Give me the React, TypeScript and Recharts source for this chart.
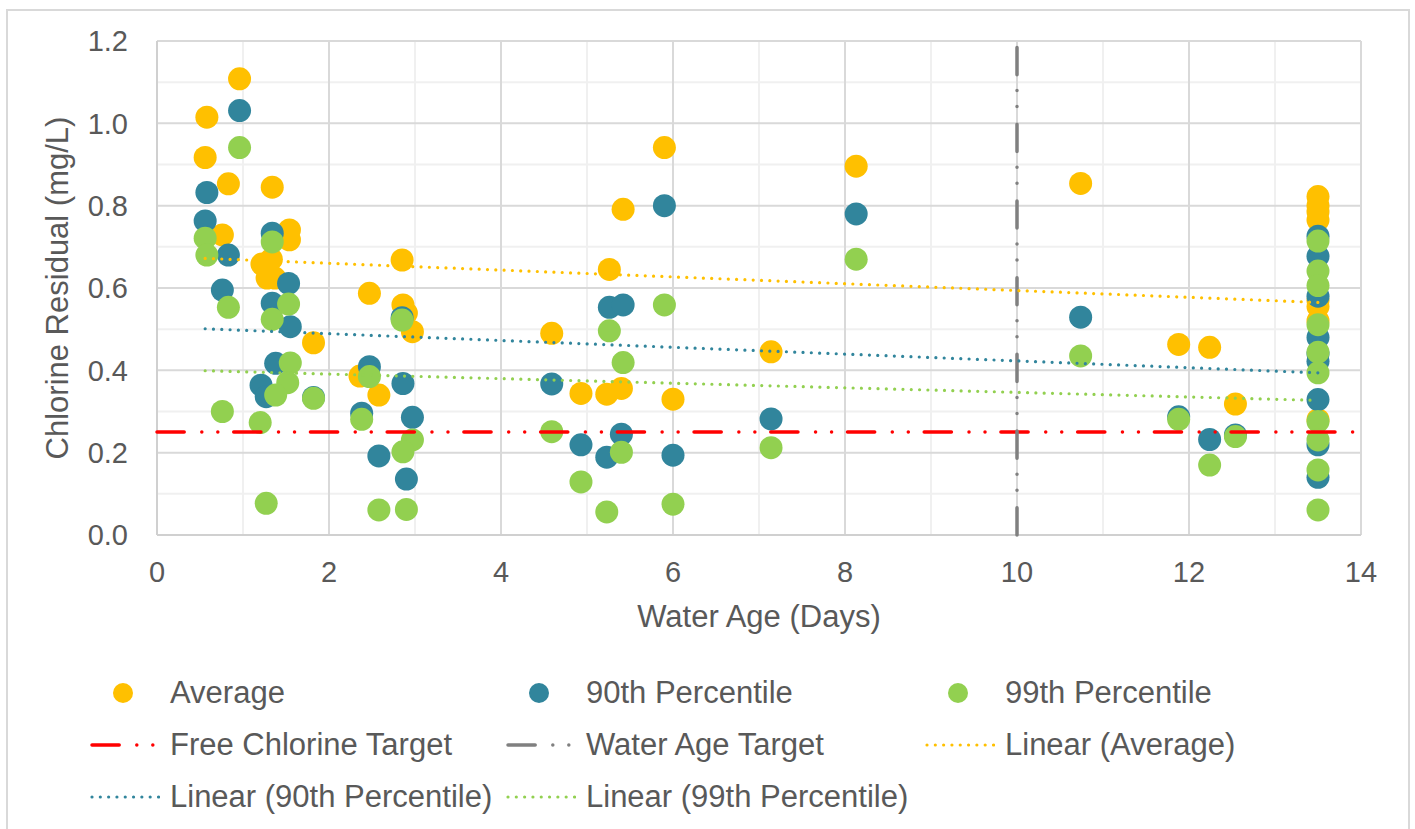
// Chlorine residual vs water age — scatter of three percentile series,
// their linear trends, and the two target lines drawn as two-point series.

import { CartesianGrid, Scatter, ScatterChart, XAxis, YAxis } from "recharts";

const FONT = '"Liberation Sans", Arial, sans-serif';
const INK = "#595959";
const GOLD = "#FFC000";
const TEAL = "#31859C";
const LIME = "#92D050";
const RED = "#FF0000";
const GREY = "#808080";

const xTicks = [0, 2, 4, 6, 8, 10, 12, 14];
const xMinor = [1, 3, 5, 7, 9, 11, 13];
const yTicks = [0, 0.2, 0.4, 0.6, 0.8, 1.0, 1.2];
const yMinor = [0.1, 0.3, 0.5, 0.7, 0.9, 1.1];

// [water age (days), chlorine (mg/L)]
const averagePts: [number, number][] = [
  [0.96, 1.108], [0.58, 1.015], [0.56, 0.917], [0.83, 0.853], [1.34, 0.845],
  [0.76, 0.729], [1.54, 0.741], [1.54, 0.717], [1.22, 0.658], [1.33, 0.67],
  [1.28, 0.624], [1.37, 0.624], [2.85, 0.668], [2.47, 0.587], [2.86, 0.559],
  [2.9, 0.539], [2.97, 0.494], [1.82, 0.467], [2.36, 0.386], [2.58, 0.34],
  [5.9, 0.941], [5.42, 0.791], [8.13, 0.896], [5.26, 0.645], [4.59, 0.49],
  [7.14, 0.445], [4.93, 0.344], [5.23, 0.342], [5.4, 0.356], [6.0, 0.33],
  [10.74, 0.854], [11.88, 0.463], [12.24, 0.456], [12.54, 0.318],
  [13.5, 0.822], [13.5, 0.8], [13.5, 0.785], [13.5, 0.765], [13.5, 0.57],
  [13.5, 0.555], [13.5, 0.52], [13.5, 0.28],
];

const p90Pts: [number, number][] = [
  [0.96, 1.031], [0.58, 0.832], [0.56, 0.763], [0.83, 0.68], [0.76, 0.595],
  [1.34, 0.733], [1.53, 0.611], [1.34, 0.563], [1.55, 0.506], [1.38, 0.417],
  [1.21, 0.364], [1.27, 0.336], [1.82, 0.334], [2.85, 0.528], [2.47, 0.409],
  [2.86, 0.368], [2.38, 0.296], [2.97, 0.286], [2.58, 0.192], [2.9, 0.136],
  [5.9, 0.8], [8.13, 0.78], [5.26, 0.553], [5.42, 0.559], [4.59, 0.367],
  [7.14, 0.282], [5.4, 0.245], [4.93, 0.219], [5.23, 0.189], [6.0, 0.194],
  [10.74, 0.529], [11.88, 0.287], [12.24, 0.232], [12.54, 0.243],
  [13.5, 0.726], [13.5, 0.677], [13.5, 0.58], [13.5, 0.48], [13.5, 0.44],
  [13.5, 0.422], [13.5, 0.329], [13.5, 0.219], [13.5, 0.14],
];

const p99Pts: [number, number][] = [
  [0.96, 0.941], [0.56, 0.721], [0.58, 0.68], [0.83, 0.553], [0.76, 0.3],
  [1.34, 0.712], [1.34, 0.524], [1.53, 0.561], [1.55, 0.418], [1.52, 0.37],
  [1.38, 0.34], [1.2, 0.273], [1.27, 0.077], [1.82, 0.332], [2.85, 0.522],
  [2.47, 0.385], [2.38, 0.281], [2.97, 0.231], [2.86, 0.202], [2.58, 0.061],
  [2.9, 0.062], [8.13, 0.67], [5.9, 0.559], [5.26, 0.496], [5.42, 0.419],
  [4.59, 0.251], [7.14, 0.212], [5.4, 0.201], [4.93, 0.129], [5.23, 0.056],
  [6.0, 0.075], [10.74, 0.435], [11.88, 0.281], [12.24, 0.17], [12.54, 0.239],
  [13.5, 0.714], [13.5, 0.641], [13.5, 0.606], [13.5, 0.511], [13.5, 0.444],
  [13.5, 0.394], [13.5, 0.276], [13.5, 0.231], [13.5, 0.158], [13.5, 0.061],
];

// trend endpoints
const avgTrend: [number, number][] = [[0.56, 0.672], [13.5, 0.565]];
const p90Trend: [number, number][] = [[0.56, 0.501], [13.5, 0.394]];
const p99Trend: [number, number][] = [[0.56, 0.399], [13.5, 0.327]];

const chlorineTarget: [number, number][] = [[0, 0.25], [14, 0.25]];
const waterAgeTarget: [number, number][] = [[10, 0], [10, 1.2]];

const toXY = (pts: [number, number][]) => pts.map(([x, y]) => ({ x, y }));

const DASH_DOT_DOT = "27.2 17.6 0.01 16 0.01 15.9";
const ROUND_DOT = "0.01 8.3";

const dot = (color: string) => (p: { cx?: number; cy?: number }) =>
  p.cx == null || p.cy == null ? <g /> : <circle cx={p.cx} cy={p.cy} r={11.5} fill={color} />;

const noMark = () => <g />;

type LegendKind = "dot" | "dashdot" | "dotted";
const legendItems: { label: string; kind: LegendKind; color: string }[] = [
  { label: "Average", kind: "dot", color: GOLD },
  { label: "90th Percentile", kind: "dot", color: TEAL },
  { label: "99th Percentile", kind: "dot", color: LIME },
  { label: "Free Chlorine Target", kind: "dashdot", color: RED },
  { label: "Water Age Target", kind: "dashdot", color: GREY },
  { label: "Linear (Average)", kind: "dotted", color: GOLD },
  { label: "Linear (90th Percentile)", kind: "dotted", color: TEAL },
  { label: "Linear (99th Percentile)", kind: "dotted", color: LIME },
];

function LegendSample({ kind, color }: { kind: LegendKind; color: string }) {
  return (
    <svg width={70} height={24} style={{ display: "block" }}>
      {kind === "dot" && <circle cx={33} cy={12} r={10} fill={color} />}
      {kind === "dashdot" && (
        <line x1={2} y1={12} x2={68} y2={12} stroke={color} strokeWidth={3.5}
          strokeLinecap="round" strokeDasharray={DASH_DOT_DOT} />
      )}
      {kind === "dotted" && (
        <line x1={2} y1={12} x2={69} y2={12} stroke={color} strokeWidth={3.2}
          strokeLinecap="round" strokeDasharray={ROUND_DOT} />
      )}
    </svg>
  );
}

function ChartLegend() {
  const textLeft = [170, 586, 1005];
  return (
    <>
      {legendItems.map((it, i) => {
        const col = i % 3;
        const row = Math.floor(i / 3);
        const cy = 693 + row * 52;
        return (
          <div
            key={it.label}
            style={{
              position: "absolute",
              left: textLeft[col] - 80,
              top: cy - 20,
              height: 40,
              display: "flex",
              alignItems: "center",
              whiteSpace: "nowrap",
            }}
          >
            <LegendSample kind={it.kind} color={it.color} />
            <span style={{ marginLeft: 10, fontFamily: FONT, fontSize: 31, color: INK }}>
              {it.label}
            </span>
          </div>
        );
      })}
    </>
  );
}

const tickStyle = { fontSize: 29, fill: INK, fontFamily: FONT };

export default function App() {
  return (
    <div style={{ position: "absolute", left: 0, top: 0, width: 1415, height: 829, overflow: "hidden", background: "#fff" }}>
      <div
        style={{
          position: "absolute",
          left: 6,
          top: 9,
          width: 1400,
          height: 860,
          border: "2px solid #d9d9d9",
        }}
      />
      <div style={{ position: "absolute", left: 0, top: 0 }}>
        <ScatterChart
          width={1415}
          height={829}
          margin={{ top: 41, right: 54, bottom: 194, left: 20 }}
          style={{ fontFamily: FONT }}
        >
          <CartesianGrid
            stroke="#f0f0f0"
            strokeWidth={2}
            horizontalValues={yMinor}
            verticalValues={xMinor}
          />
          <CartesianGrid stroke="#d9d9d9" strokeWidth={2} />
          <XAxis
            type="number"
            dataKey="x"
            domain={[0, 14]}
            ticks={xTicks}
            interval={0}
            tickLine={false}
            axisLine={{ stroke: "#d0d0d0", strokeWidth: 2 }}
            tick={tickStyle}
            tickMargin={20}
            height={100}
            label={{
              value: "Water Age (Days)",
              position: "insideBottom",
              offset: 8,
              fontSize: 31,
              fill: INK,
              fontFamily: FONT,
            }}
          />
          <YAxis
            type="number"
            dataKey="y"
            domain={[0, 1.2]}
            ticks={yTicks}
            interval={0}
            tickFormatter={(v: number) => v.toFixed(1)}
            tickLine={false}
            axisLine={{ stroke: "#d0d0d0", strokeWidth: 2 }}
            tick={tickStyle}
            tickMargin={23}
            width={137}
            label={{
              content: ({ viewBox }: { viewBox?: { x: number; y: number; height: number } }) => {
                const vb = viewBox ?? { x: 20, y: 41, height: 494 };
                const cx = vb.x + 48;
                const cy = vb.y + vb.height / 2;
                return (
                  <text
                    x={cx}
                    y={cy}
                    transform={`rotate(-90 ${cx} ${cy})`}
                    textAnchor="middle"
                    fontSize={31}
                    fill={INK}
                    fontFamily={FONT}
                  >
                    Chlorine Residual (mg/L)
                  </text>
                );
              },
            }}
          />
          <Scatter name="Average" data={toXY(averagePts)} fill={GOLD} shape={dot(GOLD)} isAnimationActive={false} />
          <Scatter name="90th Percentile" data={toXY(p90Pts)} fill={TEAL} shape={dot(TEAL)} isAnimationActive={false} />
          <Scatter name="99th Percentile" data={toXY(p99Pts)} fill={LIME} shape={dot(LIME)} isAnimationActive={false} />
          <Scatter
            name="Free Chlorine Target"
            data={toXY(chlorineTarget)}
            fill={RED}
            shape={noMark}
            line={{ stroke: RED, strokeWidth: 3.5, strokeDasharray: DASH_DOT_DOT, strokeLinecap: "round" }}
            isAnimationActive={false}
          />
          <Scatter
            name="Water Age Target"
            data={toXY(waterAgeTarget)}
            fill={GREY}
            shape={noMark}
            line={{ stroke: GREY, strokeWidth: 3.5, strokeDasharray: DASH_DOT_DOT, strokeLinecap: "round" }}
            isAnimationActive={false}
          />
          <Scatter
            name="Linear (Average)"
            data={toXY(avgTrend)}
            fill={GOLD}
            shape={noMark}
            line={{ stroke: GOLD, strokeWidth: 3.2, strokeDasharray: ROUND_DOT, strokeLinecap: "round" }}
            isAnimationActive={false}
          />
          <Scatter
            name="Linear (90th Percentile)"
            data={toXY(p90Trend)}
            fill={TEAL}
            shape={noMark}
            line={{ stroke: TEAL, strokeWidth: 3.2, strokeDasharray: ROUND_DOT, strokeLinecap: "round" }}
            isAnimationActive={false}
          />
          <Scatter
            name="Linear (99th Percentile)"
            data={toXY(p99Trend)}
            fill={LIME}
            shape={noMark}
            line={{ stroke: LIME, strokeWidth: 3.2, strokeDasharray: ROUND_DOT, strokeLinecap: "round" }}
            isAnimationActive={false}
          />
        </ScatterChart>
      </div>
      <ChartLegend />
    </div>
  );
}
